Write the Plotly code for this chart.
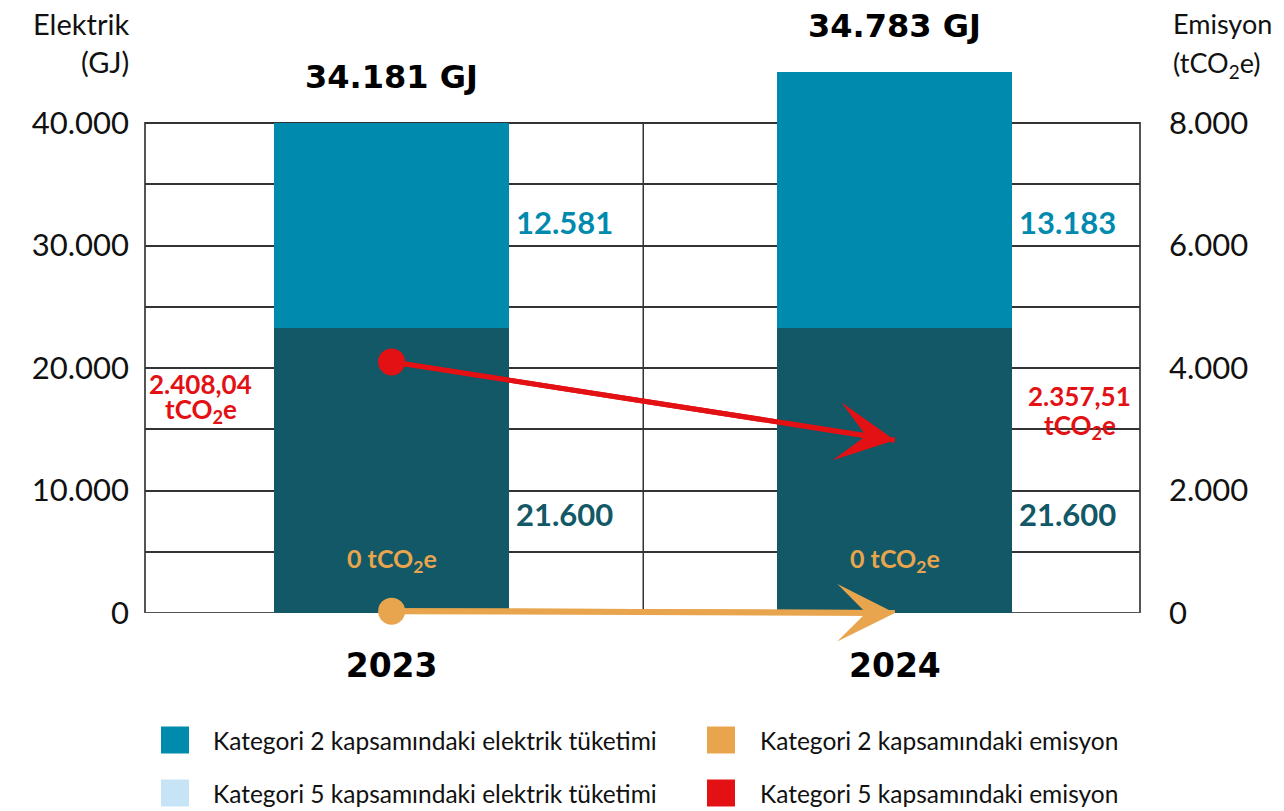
import plotly.graph_objects as go

# ---- data ----
years = ["2023", "2024"]
elec_dark = [23300, 23250]        # drawn height of lower (dark) segment
elec_light = [16700, 20950]       # drawn height of upper segment
total_labels = ["34.181 GJ", "34.783 GJ"]
light_labels = ["12.581", "13.183"]
dark_labels = ["21.600", "21.600"]
emis_cat5 = [4100, 2820]          # red arrow, right axis
emis_cat2 = [30, 0]               # orange arrow, right axis
emis_cat5_labels = ["2.408,04", "2.357,51"]
emis_unit = "tCO<sub>2</sub>e"
legend_items = [
    ("Kategori 2 kapsamındaki elektrik tüketimi", "#008aad"),
    ("Kategori 2 kapsamındaki emisyon", "#e8a54d"),
    ("Kategori 5 kapsamındaki elektrik tüketimi", "#c6e4f6"),
    ("Kategori 5 kapsamındaki emisyon", "#e31014"),
]

DARK = "#125866"
LIGHT = "#008aad"
RED = "#e31014"
ORANGE = "#e8a54d"
FONT = "Lato, Arial, sans-serif"
HEAVY = "DejaVu Sans, Arial, sans-serif"

# page has an 8px body margin, so the plot box is placed 8px up/left.
# plot domain is taller than the 0..40.000 frame so the 2024 bar can rise above it
W, H = 1284, 811
L, T, PW, PH = 137, 63, 995, 542
R, B = W - L - PW, H - T - PH
Y_TOP = 40000 * PH / 490
Y2_TOP = 8000 * PH / 490


def px(xs):  # screen x -> paper
    return (xs - 145) / PW


def py(ys):  # screen y -> paper
    return (613 - ys) / PH


fig = go.Figure()
fig.add_trace(go.Bar(x=years, y=elec_dark, marker_color=DARK, width=0.467,
                     marker_line_width=0, showlegend=False))
fig.add_trace(go.Bar(x=years, y=elec_light, marker_color=LIGHT, width=0.467,
                     marker_line_width=0, showlegend=False))

# emission arrows on right axis
for vals, color, w, size in [(emis_cat2, ORANGE, 6, 1.6), (emis_cat5, RED, 5, 1.95)]:
    fig.add_trace(go.Scatter(x=years, y=vals, yaxis="y2", mode="lines+markers",
                             line=dict(color=color, width=w),
                             marker=dict(size=[27, 0], color=color, opacity=1, line=dict(width=0)),
                             cliponaxis=False, showlegend=False, hoverinfo="skip"))
    fig.add_annotation(x=1, y=vals[1], xref="x", yref="y2",
                       ax=0, ay=vals[0], axref="x", ayref="y2",
                       showarrow=True, arrowhead=3, arrowsize=size, arrowwidth=w,
                       arrowcolor=color, text="")

totals = [a + b for a, b in zip(elec_dark, elec_light)]
for i in range(len(years)):
    fig.add_annotation(x=i, y=totals[i], yanchor="bottom", yshift=25, showarrow=False,
                       text=f"<b>{total_labels[i]}</b>", font=dict(size=32, color="#000", family=HEAVY))
    fig.add_annotation(x=i, y=31900, xanchor="left", yanchor="middle", xshift=122, showarrow=False,
                       text=f"<b>{light_labels[i]}</b>", font=dict(size=31, color=LIGHT, family=FONT))
    fig.add_annotation(x=i, y=8080, xanchor="left", yanchor="middle", xshift=122, showarrow=False,
                       text=f"<b>{dark_labels[i]}</b>", font=dict(size=31, color=DARK, family=FONT))
    fig.add_annotation(x=i, y=4330, yanchor="middle", showarrow=False,
                       text=f"<b>0 {emis_unit}</b>", font=dict(size=25, color=ORANGE, family=FONT))

for i, (dx, yv, yu) in enumerate([(-191, 18700, 16500), (185, 17700, 15200)]):
    fig.add_annotation(x=i, y=yv, xshift=dx, yanchor="middle", showarrow=False,
                       text=f"<b>{emis_cat5_labels[i]}</b>", font=dict(size=26, color=RED, family=FONT))
    fig.add_annotation(x=i, y=yu, xshift=dx, yanchor="middle", showarrow=False,
                       text=f"<b>{emis_unit}</b>", font=dict(size=26, color=RED, family=FONT))

# axis titles
for txt, x, y, anchor, fs in [("Elektrik", 131, 24, "right", 29), ("(GJ)", 131, 62, "right", 29),
                              ("Emisyon", 1171, 24, "left", 27), ("(tCO<sub>2</sub>e)", 1171, 64, "left", 27)]:
    fig.add_annotation(x=px(x), y=py(y), xref="paper", yref="paper", xanchor=anchor, yanchor="middle",
                       showarrow=False, text=txt, font=dict(size=fs, color="#111", family=FONT))

# frame and middle divider
fig.add_shape(type="rect", x0=0, x1=1, y0=0, y1=40000, xref="paper", yref="y",
              line=dict(color="#555", width=2), layer="below")
fig.add_shape(type="line", x0=0.5, x1=0.5, y0=0, y1=40000, xref="x", yref="y",
              line=dict(color="#333", width=1.5), layer="below")

# legend
rows = [740, 793]
cols = [(161, 211), (707, 758)]
for k, (label, color) in enumerate(legend_items):
    r, c = divmod(k, 2)
    x0, tx = cols[c]
    yc = rows[r]
    fig.add_shape(type="rect", xref="paper", yref="paper",
                  x0=px(x0), x1=px(x0 + 28), y0=py(yc - 13.5), y1=py(yc + 13.5),
                  fillcolor=color, line_width=0)
    fig.add_annotation(x=px(tx), y=py(yc), xref="paper", yref="paper", xanchor="left", yanchor="middle",
                       showarrow=False, text=label, font=dict(size=24.5, color="#111", family=FONT))

fig.update_layout(
    width=W, height=H,
    margin=dict(l=L, r=R, t=T, b=B),
    paper_bgcolor="white", plot_bgcolor="white",
    barmode="stack",
    separators=",.",
    font=dict(family=FONT, color="#111"),
    xaxis=dict(type="category", showgrid=False, ticks="", ticklabelstandoff=30,
               tickfont=dict(size=33, color="#000", family=HEAVY, weight="bold"),
               showline=False, range=[-0.49, 1.487]),
    yaxis=dict(range=[0, Y_TOP], tickvals=[0, 10000, 20000, 30000, 40000], tickformat=",d",
               showgrid=True, gridcolor="#333", gridwidth=1.5,
               minor=dict(dtick=5000, showgrid=True, gridcolor="#333", gridwidth=1.5),
               tickfont=dict(size=31, color="#111", family=FONT), ticks="", ticklabelstandoff=15,
               showline=False, zeroline=False),
    yaxis2=dict(range=[0, Y2_TOP], overlaying="y", side="right", tickvals=[0, 2000, 4000, 6000, 8000],
                tickformat=",d", showgrid=False, zeroline=False, ticks="", ticklabelstandoff=28,
                tickfont=dict(size=31, color="#111", family=FONT)),
)

fig.write_html("out.html")
